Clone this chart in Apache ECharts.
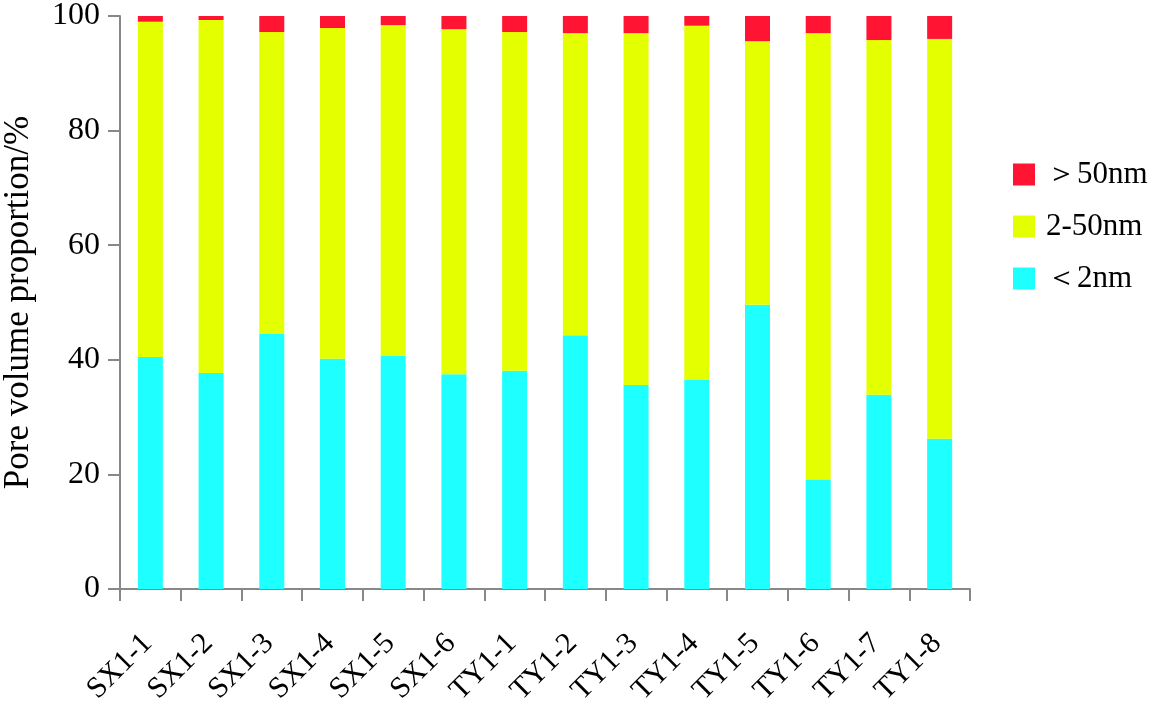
<!DOCTYPE html>
<html>
<head>
<meta charset="utf-8">
<script src="https://cdn.jsdelivr.net/npm/echarts@6/dist/echarts.min.js"></script>
<style>html,body{margin:0;padding:0;background:#fff}#c{width:1150px;height:707px}</style>
</head>
<body>
<div id="c"></div>
<script>
const categories = ['SX1-1','SX1-2','SX1-3','SX1-4','SX1-5','SX1-6','TY1-1','TY1-2','TY1-3','TY1-4','TY1-5','TY1-6','TY1-7','TY1-8'];
const micro = [40.5, 37.7, 44.5, 40.2, 40.7, 37.5, 38.1, 44.3, 35.6, 36.5, 49.6, 19.1, 33.9, 26.2];
const meso  = [58.5, 61.6, 52.7, 57.7, 57.7, 60.2, 59.1, 52.7, 61.4, 61.8, 46.0, 77.9, 61.9, 69.8];
const macro = [1.0, 0.7, 2.8, 2.1, 1.6, 2.3, 2.8, 3.0, 3.0, 1.7, 4.4, 3.0, 4.2, 4.0];
const yTicks = [0, 20, 40, 60, 80, 100];
const seriesNames = ['＜2nm', '2-50nm', '＞50nm'];

const FONT = "'Liberation Serif', 'Times New Roman', serif";
const chart = echarts.init(document.getElementById('c'), null, {renderer: 'canvas'});
const axisGray = '#888888';
chart.setOption({
  animation: false,
  backgroundColor: '#ffffff',
  grid: {left: 120, right: 180, top: 16, bottom: 118, containLabel: false, outerBoundsMode: 'none'},
  legend: {
    orient: 'vertical', left: 1008, top: 154,
    data: [seriesNames[2], seriesNames[1], seriesNames[0]],
    itemWidth: 22, itemHeight: 22, itemGap: 21,
    icon: 'rect',
    textStyle: {fontFamily: FONT, fontSize: 31, color: '#000', padding: [0, 0, 0, 6]}
  },
  xAxis: {
    type: 'category', data: categories,
    axisLine: {lineStyle: {color: axisGray, width: 2}},
    axisTick: {show: true, length: 12, lineStyle: {color: axisGray, width: 2}},
    axisLabel: {rotate: 45, margin: 47, fontFamily: FONT, fontSize: 30, color: '#000', interval: 0, padding: [0, 4, 0, 0]}
  },
  yAxis: {
    type: 'value', min: yTicks[0], max: yTicks[yTicks.length - 1], interval: 20,
    name: 'Pore volume proportion/%', nameLocation: 'middle', nameGap: 84,
    nameTextStyle: {fontFamily: FONT, fontSize: 35, color: '#000'},
    axisLine: {show: true, lineStyle: {color: axisGray, width: 2}},
    axisTick: {show: true, length: 12, lineStyle: {color: axisGray, width: 2}},
    axisLabel: {margin: 20, fontFamily: FONT, fontSize: 32, color: '#000'},
    splitLine: {show: false}
  },
  series: [
    {name: seriesNames[0], type: 'bar', stack: 't', data: micro, barWidth: 25, itemStyle: {color: '#1effff'}},
    {name: seriesNames[1], type: 'bar', stack: 't', data: meso, barWidth: 25, itemStyle: {color: '#e4ff00'}},
    {name: seriesNames[2], type: 'bar', stack: 't', data: macro, barWidth: 25, itemStyle: {color: '#ff1533'}}
  ]
});
</script>
</body>
</html>
